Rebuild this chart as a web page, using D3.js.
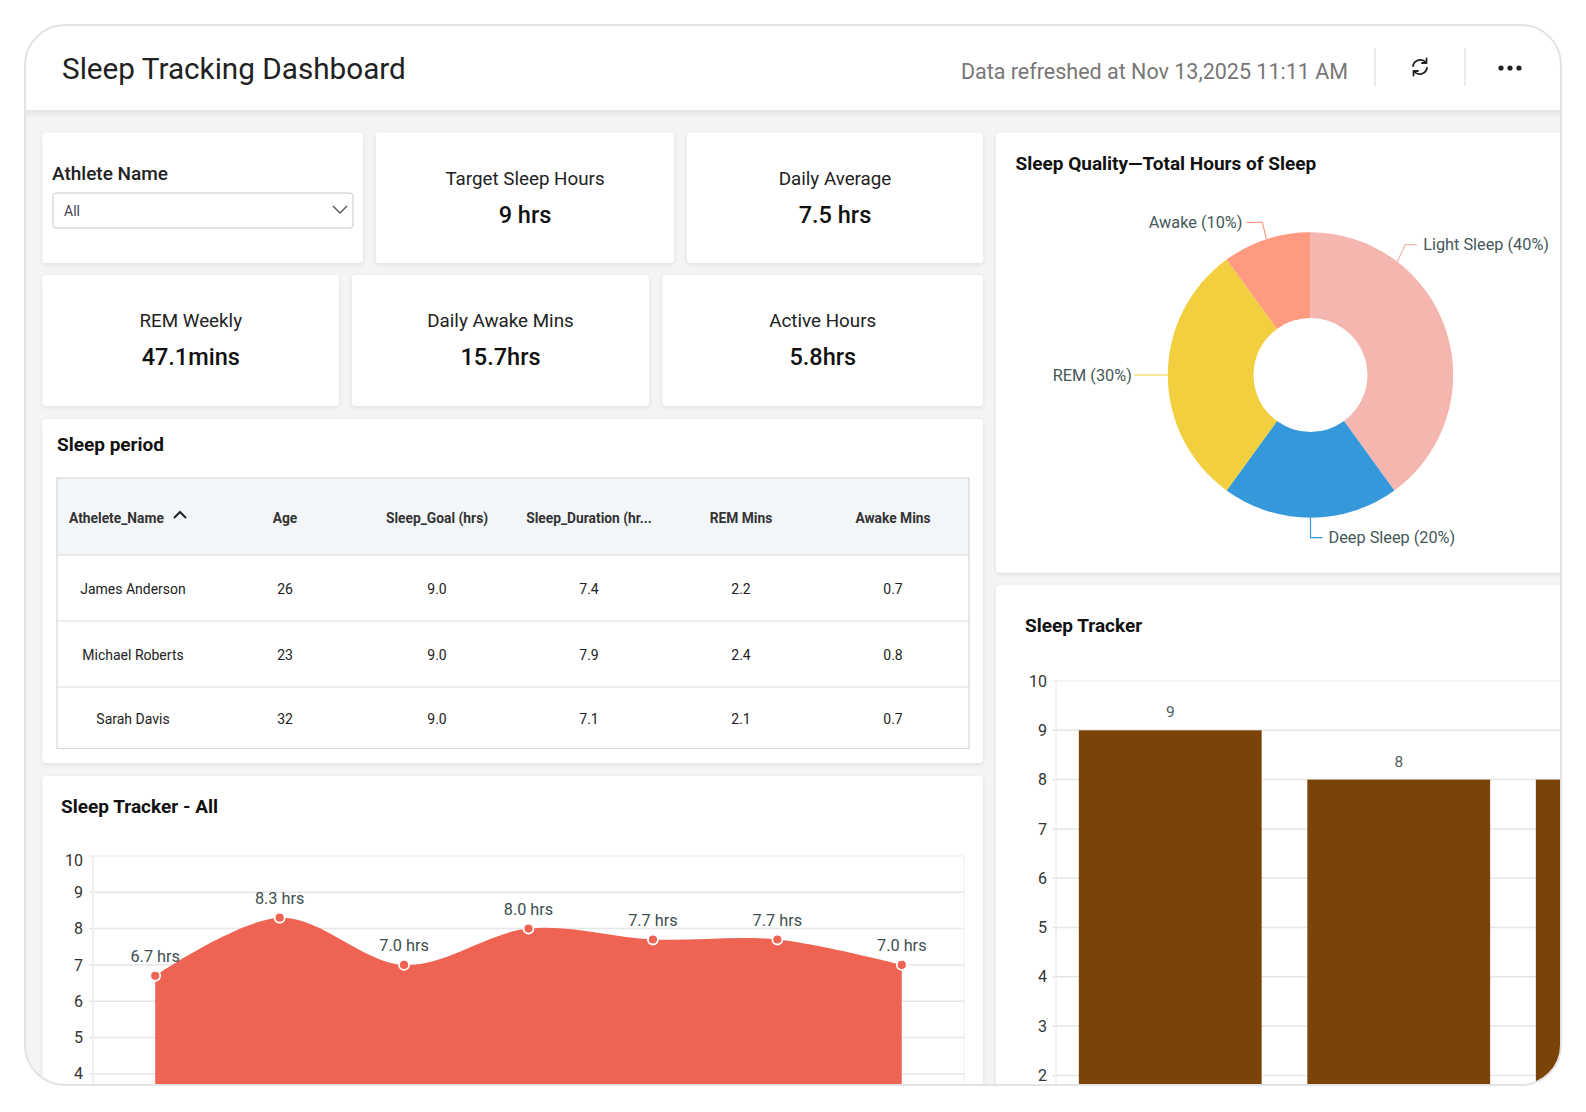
<!DOCTYPE html>
<html>
<head>
<meta charset="utf-8">
<title>Sleep Tracking Dashboard</title>
<script src="https://cdn.jsdelivr.net/npm/d3@7"></script>
<style>
  body { margin: 0; background: #fff; font-family: Roboto, "Noto Sans", sans-serif; }
  svg { display: block; }
</style>
</head>
<body>
<svg id="dash" width="1586" height="1112"></svg>
<script>
// ---- data ----
const kpiLabels = ["Target Sleep Hours", "Daily Average", "REM Weekly", "Daily Awake Mins", "Active Hours"];
const kpiValues = ["9 hrs", "7.5 hrs", "47.1mins", "15.7hrs", "5.8hrs"];

const tableColumns = ["Athelete_Name", "Age", "Sleep_Goal (hrs)", "Sleep_Duration (hr...", "REM Mins", "Awake Mins"];
const athletes = ["James Anderson", "Michael Roberts", "Sarah Davis"];
const ages = [26, 23, 32];
const sleepGoal = [9.0, 9.0, 9.0];
const sleepDuration = [7.4, 7.9, 7.1];
const remMins = [2.2, 2.4, 2.1];
const awakeMins = [0.7, 0.8, 0.7];

const stageNames = ["Light Sleep", "Deep Sleep", "REM", "Awake"];
const stageShares = [40, 20, 30, 10];
const stageColors = ["#f4b6af", "#3498db", "#f2cf3e", "#fd9a80"];

const trendDays = ["Mon", "Tue", "Wed", "Thu", "Fri", "Sat", "Sun"];
const trendHours = [6.7, 8.3, 7.0, 8.0, 7.7, 7.7, 7.0];

const barAthletes = ["James Anderson", "Michael Roberts", "Sarah Davis"];
const barHours = [9, 8, 8];

const hourTicks = [0, 1, 2, 3, 4, 5, 6, 7, 8, 9, 10];

// ---- setup ----
const svg = d3.select("#dash");
const defs = svg.append("defs");
const frameBottom = 1085, frameRight = 1561;

defs.append("clipPath").attr("id", "frameClip")
  .append("rect").attr("x", 25).attr("y", 25).attr("width", 1536).attr("height", 1060).attr("rx", 40);

const shadow = defs.append("filter").attr("id", "cardShadow")
  .attr("x", "-5%").attr("y", "-5%").attr("width", "110%").attr("height", "115%");
shadow.append("feDropShadow").attr("dx", 0).attr("dy", 1.5).attr("stdDeviation", 2)
  .attr("flood-color", "#000").attr("flood-opacity", 0.09);

const hdrGrad = defs.append("linearGradient").attr("id", "hdrShade").attr("x1", 0).attr("x2", 0).attr("y1", 0).attr("y2", 1);
hdrGrad.append("stop").attr("offset", "0%").attr("stop-color", "#e3e4e5");
hdrGrad.append("stop").attr("offset", "100%").attr("stop-color", "#f3f4f5");

const root = svg.append("g").attr("clip-path", "url(#frameClip)");

// page background + header
root.append("rect").attr("x", 25).attr("y", 25).attr("width", 1536).attr("height", 1060).attr("fill", "#f3f4f5");
root.append("rect").attr("x", 25).attr("y", 25).attr("width", 1536).attr("height", 85).attr("fill", "#fff");
root.append("rect").attr("x", 25).attr("y", 110).attr("width", 1536).attr("height", 8).attr("fill", "url(#hdrShade)");

root.append("text").attr("x", 62).attr("y", 68).attr("dominant-baseline", "central")
  .attr("font-size", 29.7).attr("fill", "#222").text("Sleep Tracking Dashboard");
root.append("text").attr("x", 1348).attr("y", 71).attr("dominant-baseline", "central").attr("text-anchor", "end")
  .attr("font-size", 21.5).attr("fill", "#777").text("Data refreshed at Nov 13,2025 11:11 AM");

[1375, 1465].forEach(x => root.append("line").attr("x1", x).attr("x2", x).attr("y1", 48).attr("y2", 86)
  .attr("stroke", "#dedede").attr("stroke-width", 1.2));

// refresh icon
const ic = root.append("g").attr("transform", "translate(1420,67)")
  .attr("fill", "none").attr("stroke", "#222").attr("stroke-width", 1.8).attr("stroke-linecap", "round");
ic.append("path").attr("d", "M-7,-1 A7.5,7.5 0 0 1 6,-4.5");
ic.append("path").attr("d", "M7,1 A7.5,7.5 0 0 1 -6,4.5");
ic.append("path").attr("d", "M6.5,-8.5 L6.5,-4 L2,-4").attr("stroke-linejoin", "round");
ic.append("path").attr("d", "M-6.5,8.5 L-6.5,4 L-2,4").attr("stroke-linejoin", "round");
// more dots
[-9, 0, 9].forEach(dx => root.append("circle").attr("cx", 1510 + dx).attr("cy", 68).attr("r", 2.6).attr("fill", "#222"));

function card(x, y, w, h) {
  return root.append("rect").attr("x", x).attr("y", y).attr("width", w).attr("height", h)
    .attr("rx", 4).attr("fill", "#fff").attr("filter", "url(#cardShadow)");
}
function title(x, y, t, size) {
  return root.append("text").attr("x", x).attr("y", y).attr("dominant-baseline", "central")
    .attr("font-size", size || 19).attr("font-weight", 700).attr("fill", "#111").text(t);
}

// ---- athlete filter card ----
card(42.5, 132.5, 320.5, 130.5);
root.append("text").attr("x", 52).attr("y", 173).attr("dominant-baseline", "central")
  .attr("font-size", 19).attr("font-weight", 500).attr("fill", "#222").text("Athlete Name");
root.append("rect").attr("x", 53).attr("y", 193).attr("width", 300).attr("height", 35).attr("rx", 3)
  .attr("fill", "#fff").attr("stroke", "#c9c9c9");
root.append("text").attr("x", 64).attr("y", 211).attr("dominant-baseline", "central")
  .attr("font-size", 14).attr("fill", "#445").text("All");
root.append("path").attr("d", "M333,206 L340,213 L347,206").attr("fill", "none")
  .attr("stroke", "#555").attr("stroke-width", 1.4);

// ---- KPI cards ----
const kpiBoxes = [
  [376, 132.5, 298, 130.5], [687, 132.5, 296, 130.5],
  [42.5, 275, 296.5, 131], [352, 275, 297, 131], [662.5, 275, 320.5, 131]
];
kpiBoxes.forEach((b, i) => {
  card(b[0], b[1], b[2], b[3]);
  const cx = b[0] + b[2] / 2;
  root.append("text").attr("x", cx).attr("y", b[1] + 46).attr("text-anchor", "middle")
    .attr("dominant-baseline", "central").attr("font-size", 18.8).attr("fill", "#222").text(kpiLabels[i]);
  root.append("text").attr("x", cx).attr("y", b[1] + 82).attr("text-anchor", "middle")
    .attr("dominant-baseline", "central").attr("font-size", 23.5).attr("font-weight", 500).attr("fill", "#111").text(kpiValues[i]);
});

// ---- sleep period table ----
card(42.5, 419, 940.5, 344);
title(57, 444, "Sleep period", 19);

const tX = 57, tY = 478, tW = 912, headH = 77;
const rowY = [555, 621, 687, 748.5];
const colX = d3.scaleBand().domain(tableColumns).range([tX, tX + tW]);
root.append("rect").attr("x", tX).attr("y", tY).attr("width", tW).attr("height", headH).attr("fill", "#f3f6f9");
root.append("rect").attr("x", tX).attr("y", tY).attr("width", tW).attr("height", rowY[3] - tY)
  .attr("fill", "none").attr("stroke", "#d6d8da").attr("stroke-width", 1.2);
rowY.slice(0, 3).forEach(y => root.append("line").attr("x1", tX).attr("x2", tX + tW).attr("y1", y).attr("y2", y)
  .attr("stroke", "#d9dbdd").attr("stroke-width", 1.2));

root.selectAll("text.th").data(tableColumns).enter().append("text").attr("class", "th")
  .attr("x", (d, i) => i === 0 ? tX + 12 : colX(d) + colX.bandwidth() / 2)
  .attr("y", tY + headH / 2 + 1)
  .attr("text-anchor", (d, i) => i === 0 ? "start" : "middle")
  .attr("dominant-baseline", "central").attr("font-size", 13.8).attr("font-weight", 700).attr("fill", "#333")
  .text(d => d);
root.append("path").attr("d", "M174,518 L180,512 L186,518").attr("fill", "none")
  .attr("stroke", "#222").attr("stroke-width", 2);

const tableRows = athletes.map((n, i) => [n, ages[i], sleepGoal[i].toFixed(1), sleepDuration[i].toFixed(1),
  remMins[i].toFixed(1), awakeMins[i].toFixed(1)]);
tableRows.forEach((row, r) => {
  const cy = r === 0 ? (tY + headH + rowY[1]) / 2 : (rowY[r] + rowY[r + 1]) / 2;
  row.forEach((v, c) => root.append("text")
    .attr("x", colX(tableColumns[c]) + colX.bandwidth() / 2).attr("y", cy + 1)
    .attr("text-anchor", "middle").attr("dominant-baseline", "central")
    .attr("font-size", 14).attr("fill", "#222").text(v));
});

// ---- sleep tracker - all (area) ----
card(42.5, 776, 940.5, 340);
title(61, 806, "Sleep Tracker - All", 19);

const ax = d3.scalePoint().domain(trendDays).range([93, 964]).padding(0.5);
const ay = d3.scaleLinear().domain([0, 10]).range([1219, 856]);
const aTicks = hourTicks.filter(d => ay(d) < frameBottom - 4);

const aGrid = root.append("g");
aGrid.selectAll("line").data(aTicks).enter().append("line")
  .attr("x1", 89).attr("x2", 964).attr("y1", d => ay(d)).attr("y2", d => ay(d))
  .attr("stroke", d => d === 10 ? "#f0f0f0" : "#e6e6e6").attr("stroke-width", 1.5);
aGrid.append("line").attr("x1", 93).attr("x2", 93).attr("y1", 856).attr("y2", 1100).attr("stroke", "#ededed").attr("stroke-width", 1.5);
aGrid.append("line").attr("x1", 964).attr("x2", 964).attr("y1", 856).attr("y2", 1100).attr("stroke", "#f3f3f3").attr("stroke-width", 1.5);

const aAxis = root.append("g").attr("transform", "translate(87,0)")
  .call(d3.axisLeft(ay).tickValues(aTicks).tickSize(0).tickPadding(4));
aAxis.select(".domain").remove();
aAxis.selectAll("text").attr("font-family", "Roboto, sans-serif").attr("font-size", 16).attr("fill", "#333")
  .attr("dy", d => d === 10 ? "0.6em" : "0.32em");

const trend = trendDays.map((d, i) => ({ day: d, v: trendHours[i] }));
const area = d3.area().curve(d3.curveCardinal.tension(0))
  .x(d => ax(d.day)).y0(1219).y1(d => ay(d.v));
root.append("path").datum(trend).attr("d", area).attr("fill", "#ee6352");

root.selectAll("circle.pt").data(trend).enter().append("circle").attr("class", "pt")
  .attr("cx", d => ax(d.day)).attr("cy", d => ay(d.v)).attr("r", 5)
  .attr("fill", "#ee6352").attr("stroke", "#fff").attr("stroke-width", 1.8);
root.selectAll("text.pl").data(trend).enter().append("text").attr("class", "pl")
  .attr("x", d => ax(d.day)).attr("y", d => ay(d.v) - 19)
  .attr("text-anchor", "middle").attr("dominant-baseline", "central")
  .attr("font-size", 16.3).attr("fill", "#3d4f50").text(d => d.v.toFixed(1) + " hrs");

// ---- sleep quality donut ----
card(996, 132.5, 600, 440);
title(1015.5, 163, "Sleep Quality\u2014Total Hours of Sleep", 19);

const pcx = 1310.5, pcy = 375, pr = 142.7, pri = 57;
const pie = d3.pie().sort(null).value(d => d.v);
const slices = pie(stageNames.map((n, i) => ({ name: n, v: stageShares[i], color: stageColors[i] })));
const arc = d3.arc().innerRadius(pri).outerRadius(pr);
const pg = root.append("g").attr("transform", `translate(${pcx},${pcy})`);
pg.selectAll("path").data(slices).enter().append("path").attr("d", arc).attr("fill", d => d.data.color);

// leader lines and labels
const leaderFrac = [0.26, 0.5, 0.5, 0.5];
slices.forEach((s, i) => {
  const a = s.startAngle + (s.endAngle - s.startAngle) * leaderFrac[i];
  const ex = Math.sin(a) * pr, ey = -Math.cos(a) * pr;
  const right = Math.sin(a) > 0.01;
  const left = Math.sin(a) < -0.01;
  let pts, tx, ty, anchor;
  if (Math.abs(Math.sin(a)) > 0.99) {            // horizontal leader
    pts = [[ex, ey], [ex + (right ? 1 : -1) * 34, ey]];
    tx = pts[1][0] + (right ? 2 : -2); ty = ey; anchor = right ? "start" : "end";
  } else if (!right && !left) {                   // straight down
    pts = [[ex, ey], [ex, ey + 20], [ex + 12, ey + 20]];
    tx = ex + 18; ty = ey + 20; anchor = "start";
  } else {
    const ky = ey - 17, kx = ex + (right ? 8 : -4);
    pts = [[ex, ey], [kx, ky], [kx + (right ? 12 : -16), ky]];
    tx = pts[2][0] + (right ? 6 : -4); ty = ky; anchor = right ? "start" : "end";
  }
  pg.append("path").attr("d", d3.line()(pts)).attr("fill", "none")
    .attr("stroke", s.data.color).attr("stroke-width", 1.2);
  pg.append("text").attr("x", tx).attr("y", ty).attr("text-anchor", anchor).attr("dominant-baseline", "central")
    .attr("font-size", 16.3).attr("fill", "#44585a").text(`${s.data.name} (${s.data.v}%)`);
});

// ---- sleep tracker (bars) ----
card(996, 585, 600, 540);
title(1025, 625, "Sleep Tracker", 19);

const bx = d3.scaleBand().domain(barAthletes).range([1056, 1056 + 3 * 228.5]).paddingInner(0.2).paddingOuter(0.1);
const by = d3.scaleLinear().domain([0, 10]).range([1174, 681]);
const bTicks = hourTicks.filter(d => by(d) < frameBottom - 4);

root.append("g").selectAll("line").data(bTicks).enter().append("line")
  .attr("x1", 1052).attr("x2", 1600).attr("y1", d => by(d)).attr("y2", d => by(d))
  .attr("stroke", d => d === 10 ? "#f0f0f0" : "#e6e6e6").attr("stroke-width", 1.5);
root.append("line").attr("x1", 1056).attr("x2", 1056).attr("y1", 681).attr("y2", 1100)
  .attr("stroke", "#ededed").attr("stroke-width", 1.5);

const bAxis = root.append("g").attr("transform", "translate(1051,0)")
  .call(d3.axisLeft(by).tickValues(bTicks).tickSize(0).tickPadding(4));
bAxis.select(".domain").remove();
bAxis.selectAll("text").attr("font-family", "Roboto, sans-serif").attr("font-size", 16).attr("fill", "#333");

const bars = barAthletes.map((n, i) => ({ name: n, v: barHours[i] }));
root.selectAll("rect.bar").data(bars).enter().append("rect").attr("class", "bar")
  .attr("x", d => bx(d.name)).attr("width", bx.bandwidth())
  .attr("y", d => by(d.v)).attr("height", d => by(0) - by(d.v))
  .attr("fill", "#7a4409");
// only label the bars whose centre lies inside the visible frame
root.selectAll("text.bl").data(bars.filter(d => bx(d.name) + bx.bandwidth() / 2 < frameRight))
  .enter().append("text").attr("class", "bl")
  .attr("x", d => bx(d.name) + bx.bandwidth() / 2).attr("y", d => by(d.v) - 18)
  .attr("text-anchor", "middle").attr("dominant-baseline", "central")
  .attr("font-size", 15.5).attr("fill", "#4d5e60").text(d => d.v);

// frame outline
svg.append("rect").attr("x", 25).attr("y", 25).attr("width", 1536).attr("height", 1060).attr("rx", 40)
  .attr("fill", "none").attr("stroke", "#e3e3e3").attr("stroke-width", 2);
</script>
</body>
</html>
